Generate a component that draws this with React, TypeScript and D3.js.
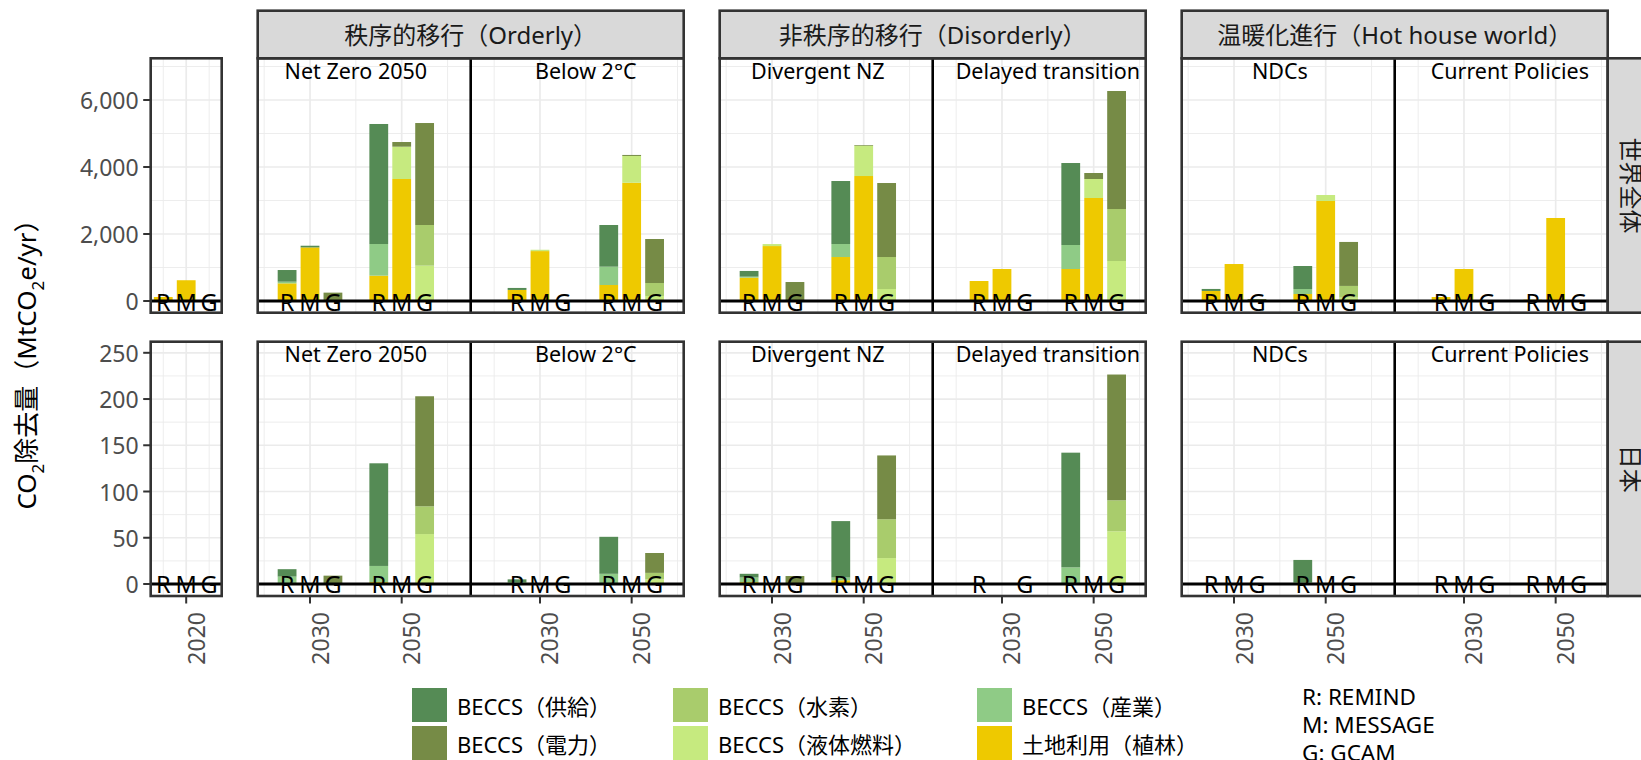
import React from "react";
import * as d3 from "d3";

// ---------------- Data ----------------
const categories = ["BECCS（供給）", "BECCS（電力）", "BECCS（水素）", "BECCS（液体燃料）", "BECCS（産業）", "土地利用（植林）"];
const categoryColors = ["#558b55", "#768b46", "#a9cc6c", "#c6ea7f", "#8fcb86", "#eec900"];
const stackBottomToTop = ["土地利用（植林）", "BECCS（産業）", "BECCS（液体燃料）", "BECCS（水素）", "BECCS（電力）", "BECCS（供給）"];
const regions = ["世界全体", "日本"];
const groupNames = ["秩序的移行（Orderly）", "非秩序的移行（Disorderly）", "温暖化進行（Hot house world）"];
const scenarioNames = [["Net Zero 2050", "Below 2°C"], ["Divergent NZ", "Delayed transition"], ["NDCs", "Current Policies"]];
const modelLetters = ["R", "M", "G"];
const modelShift = [-5, 0, 5];
const modelLegend = ["R: REMIND", "M: MESSAGE", "G: GCAM"];
const yTicksWorld = [0, 2000, 4000, 6000];
const yMinorWorld = [1000, 3000, 5000, 7000];
const yTicksJapan = [0, 50, 100, 150, 200, 250];
const yMinorJapan = [25, 75, 125, 175, 225];
const xTicksBase = [2020];
const xMinorBase = [2015, 2025];
const xTicksScen = [2030, 2050];
const xMinorScen = [2020, 2040, 2060];
const labelYear = 2040;

// rows: [year, model, 供給, 電力, 水素, 液体燃料, 産業, 土地利用]
const world2020 = [
  [2020, "R", 0, 0, 0, 0, 0, 120],
  [2020, "M", 0, 0, 0, 0, 0, 620],
  [2020, "G", 0, 0, 0, 15, 0, 0],
];
const worldNZ = [
  [2030, "R", 348, 0, 0, 0, 50, 527],
  [2030, "M", 50, 0, 0, 0, 0, 1600],
  [2030, "G", 0, 250, 0, 0, 0, 0],
  [2050, "R", 3583, 0, 0, 0, 945, 756],
  [2050, "M", 0, 139, 0, 965, 0, 3642],
  [2050, "G", 0, 3044, 1214, 1055, 0, 0],
];
const worldB2 = [
  [2030, "R", 60, 0, 0, 0, 0, 330],
  [2030, "M", 0, 0, 0, 40, 0, 1490],
  [2030, "G", 0, 10, 0, 0, 0, 0],
  [2050, "R", 1244, 0, 0, 0, 547, 478],
  [2050, "M", 0, 30, 0, 800, 0, 3530],
  [2050, "G", 0, 1314, 387, 150, 0, 0],
];
const worldDNZ = [
  [2030, "R", 170, 0, 0, 0, 30, 697],
  [2030, "M", 0, 0, 0, 60, 0, 1640],
  [2030, "G", 0, 567, 0, 0, 0, 0],
  [2050, "R", 1881, 0, 0, 0, 388, 1313],
  [2050, "M", 0, 20, 0, 906, 0, 3731],
  [2050, "G", 0, 2209, 955, 358, 0, 0],
];
const worldDT = [
  [2030, "R", 0, 0, 0, 0, 0, 597],
  [2030, "M", 0, 0, 0, 0, 0, 955],
  [2030, "G", 0, 0, 0, 0, 0, 0],
  [2050, "R", 2447, 0, 0, 0, 717, 955],
  [2050, "M", 0, 179, 0, 567, 0, 3075],
  [2050, "G", 0, 3523, 1552, 1194, 0, 0],
];
const worldNDC = [
  [2030, "R", 60, 0, 0, 0, 0, 300],
  [2030, "M", 0, 0, 0, 0, 0, 1104],
  [2030, "G", 0, 60, 0, 0, 0, 0],
  [2050, "R", 687, 0, 0, 0, 149, 209],
  [2050, "M", 0, 0, 0, 179, 0, 2985],
  [2050, "G", 0, 1313, 350, 100, 0, 0],
];
const worldCP = [
  [2030, "R", 0, 0, 0, 0, 0, 119],
  [2030, "M", 0, 0, 0, 0, 0, 955],
  [2030, "G", 0, 0, 0, 0, 0, 0],
  [2050, "R", 0, 0, 0, 0, 0, 40],
  [2050, "M", 0, 0, 0, 0, 0, 2478],
  [2050, "G", 0, 0, 0, 0, 0, 0],
];
const japan2020 = [
  [2020, "R", 0, 0, 0, 0, 0, 0.6],
  [2020, "M", 0, 0, 0, 0, 0, 0],
  [2020, "G", 0, 0, 0, 0.4, 0, 0],
];
const japanNZ = [
  [2030, "R", 8, 0, 0, 0, 8, 0],
  [2030, "M", 0, 0, 0, 0, 0, 0],
  [2030, "G", 0, 9, 0, 0, 0, 0],
  [2050, "R", 111, 0, 0, 0, 17.5, 2],
  [2050, "M", 0, 0, 0, 0, 0, 0],
  [2050, "G", 0, 119, 30, 54, 0, 0],
];
const japanB2 = [
  [2030, "R", 3, 0, 0, 0, 2, 0],
  [2030, "M", 0, 0, 0, 0, 0, 0],
  [2030, "G", 0, 0, 0, 0, 0, 0],
  [2050, "R", 40, 0, 0, 0, 11, 0],
  [2050, "M", 0, 0, 0, 0, 0, 0],
  [2050, "G", 0, 21.5, 7, 5, 0, 0],
];
const japanDNZ = [
  [2030, "R", 4, 0, 0, 0, 5, 2],
  [2030, "M", 0, 0, 0, 0, 0, 0],
  [2030, "G", 0, 8.6, 0, 0, 0, 0],
  [2050, "R", 61, 0, 0, 0, 3, 4],
  [2050, "M", 0, 0, 0, 0, 0, 0],
  [2050, "G", 0, 69, 42, 28, 0, 0],
];
const japanDT = [
  [2030, "R", 0, 0, 0, 0, 0, 0],
  [2030, "G", 0, 0, 0, 0, 0, 0],
  [2050, "R", 124, 0, 0, 0, 17, 1],
  [2050, "M", 0, 0, 0, 0, 0, 0],
  [2050, "G", 0, 136, 33.5, 57, 0, 0],
];
const japanNDC = [
  [2030, "R", 0, 0, 0, 0, 0, 0],
  [2030, "M", 0, 0, 0, 0, 0, 0],
  [2030, "G", 0, 0, 0, 0, 0, 0],
  [2050, "R", 24, 0, 0, 0, 2, 0],
  [2050, "M", 0, 0, 0, 0, 0, 0],
  [2050, "G", 0, 0, 0, 0, 0, 0],
];
const japanCP = [
  [2030, "R", 0, 0, 0, 0, 0, 0],
  [2030, "M", 0, 0, 0, 0, 0, 0],
  [2030, "G", 0, 0, 0, 0, 0, 0],
  [2050, "R", 0, 0, 0, 0, 0, 0],
  [2050, "M", 0, 0, 0, 0, 0, 0],
  [2050, "G", 0, 0, 0, 0, 0, 0],
];

const baseData = [world2020, japan2020];
const scenData = [
  [[worldNZ, worldB2], [worldDNZ, worldDT], [worldNDC, worldCP]],
  [[japanNZ, japanB2], [japanDNZ, japanDT], [japanNDC, japanCP]],
];

// ---------------- Layout ----------------
const W = 1641;
const H = 760;
const FONT = "'Noto Sans', 'Noto Sans CJK JP', sans-serif";
const rowY = [[58.3, 312.7], [341.7, 596]];
const rowDomain = [[-349, 7245], [-13, 262]];
const baseX = [150.7, 221.7];
const baseDomain = [2012.26, 2027.74];
const groupX = [[257.7, 683.7], [719.7, 1145.7], [1181.7, 1607.7]];
const subDomains = [[2018.59, 2065.05], [2014.89, 2061.35]];
const stripY = [10.7, 58.3];
const rightStrip = [1607.7, 1660];
const barHalf = 2.05;
const GRID = "#ebebeb";
const BORDER = "#333333";

const fmt = d3.format(",");

function Bars({ rows, xs, ys, keyPrefix }) {
  const objs = rows.map((r) => {
    const o = { year: r[0], model: r[1] };
    categories.forEach((c, i) => (o[c] = r[2 + i]));
    return o;
  });
  const series = d3.stack().keys(stackBottomToTop)(objs);
  const out = [];
  series.forEach((s) => {
    const color = categoryColors[categories.indexOf(s.key)];
    s.forEach((d, j) => {
      if (d[1] - d[0] <= 0) return;
      const o = objs[j];
      const cx = o.year + modelShift[modelLetters.indexOf(o.model)];
      const x0 = xs(cx - barHalf);
      const x1 = xs(cx + barHalf);
      out.push(
        <rect key={`${keyPrefix}-${s.key}-${j}`} x={x0} width={x1 - x0} y={ys(d[1])} height={Math.max(ys(d[0]) - ys(d[1]), 0.6)} fill={color} />
      );
    });
  });
  return <g>{out}</g>;
}

function Panel({ rows, xs, ys, x0, x1, y0, y1, xMajor, xMinor, yMajor, yMinor, label, keyPrefix }) {
  return (
    <g>
      {yMinor.map((v) => (
        <line key={`ymi${v}`} x1={x0} x2={x1} y1={ys(v)} y2={ys(v)} stroke={GRID} strokeWidth={0.9} />
      ))}
      {xMinor.filter((v) => xs(v) > x0 && xs(v) < x1).map((v) => (
        <line key={`xmi${v}`} x1={xs(v)} x2={xs(v)} y1={y0} y2={y1} stroke={GRID} strokeWidth={0.9} />
      ))}
      {yMajor.map((v) => (
        <line key={`yma${v}`} x1={x0} x2={x1} y1={ys(v)} y2={ys(v)} stroke={GRID} strokeWidth={1.7} />
      ))}
      {xMajor.map((v) => (
        <line key={`xma${v}`} x1={xs(v)} x2={xs(v)} y1={y0} y2={y1} stroke={GRID} strokeWidth={1.7} />
      ))}
      <Bars rows={rows} xs={xs} ys={ys} keyPrefix={keyPrefix} />
      <line x1={x0} x2={x1} y1={ys(0)} y2={ys(0)} stroke="#000" strokeWidth={3} />
      {rows.map((r, i) => {
        const cx = r[0] + modelShift[modelLetters.indexOf(r[1])];
        return (
          <text key={`lab${i}`} x={xs(cx)} y={ys(0) + 0.5} textAnchor="middle" dominantBaseline="central" fontSize={23.5} fill="#000">
            {r[1]}
          </text>
        );
      })}
      {label && (
        <text x={xs(labelYear)} y={y0 + 20.6} textAnchor="middle" fontSize={21.5} fill="#000">
          {label}
        </text>
      )}
    </g>
  );
}

export default function App() {
  const elems = [];
  rowY.forEach(([y0, y1], ri) => {
    const ys = d3.scaleLinear().domain(rowDomain[ri]).range([y1, y0]);
    const yMajor = ri === 0 ? yTicksWorld : yTicksJapan;
    const yMinor = ri === 0 ? yMinorWorld : yMinorJapan;
    const isBottom = ri === rowY.length - 1;

    // base-year panel
    const xsB = d3.scaleLinear().domain(baseDomain).range(baseX);
    elems.push(
      <g key={`base${ri}`}>
        <Panel rows={baseData[ri]} xs={xsB} ys={ys} x0={baseX[0]} x1={baseX[1]} y0={y0} y1={y1}
          xMajor={xTicksBase} xMinor={xMinorBase} yMajor={yMajor} yMinor={yMinor} label={null} keyPrefix={`b${ri}`} />
        <rect x={baseX[0]} y={y0} width={baseX[1] - baseX[0]} height={y1 - y0} fill="none" stroke={BORDER} strokeWidth={2.6} />
        {yMajor.map((v) => (
          <g key={`yt${v}`}>
            <line x1={baseX[0] - 7.5} x2={baseX[0]} y1={ys(v)} y2={ys(v)} stroke={BORDER} strokeWidth={2} />
            <text x={baseX[0] - 12} y={ys(v)} textAnchor="end" dominantBaseline="central" fontSize={23} fill="#4d4d4d">
              {fmt(v)}
            </text>
          </g>
        ))}
        {isBottom && xTicksBase.map((v) => (
          <g key={`xt${v}`}>
            <line x1={xsB(v)} x2={xsB(v)} y1={y1} y2={y1 + 7.5} stroke={BORDER} strokeWidth={2} />
            <text transform={`translate(${xsB(v) + 9.5},${y1 + 16}) rotate(-90)`} textAnchor="end" dominantBaseline="central" fontSize={23} fill="#4d4d4d">
              {v}
            </text>
          </g>
        ))}
      </g>
    );

    // scenario groups
    groupX.forEach(([gx0, gx1], gi) => {
      const mid = (gx0 + gx1) / 2;
      const subs = [[gx0, mid], [mid, gx1]];
      subs.forEach(([sx0, sx1], si) => {
        const xs = d3.scaleLinear().domain(subDomains[si]).range([sx0, sx1]);
        elems.push(
          <g key={`p${ri}-${gi}-${si}`}>
            <Panel rows={scenData[ri][gi][si]} xs={xs} ys={ys} x0={sx0} x1={sx1} y0={y0} y1={y1}
              xMajor={xTicksScen} xMinor={xMinorScen} yMajor={yMajor} yMinor={yMinor}
              label={scenarioNames[gi][si]} keyPrefix={`s${ri}${gi}${si}`} />
            {isBottom && xTicksScen.map((v) => (
              <g key={`xt${v}`}>
                <line x1={xs(v)} x2={xs(v)} y1={y1} y2={y1 + 7.5} stroke={BORDER} strokeWidth={2} />
                <text transform={`translate(${xs(v) + 9.5},${y1 + 16}) rotate(-90)`} textAnchor="end" dominantBaseline="central" fontSize={23} fill="#4d4d4d">
                  {v}
                </text>
              </g>
            ))}
          </g>
        );
      });
      elems.push(
        <g key={`gb${ri}-${gi}`}>
          <line x1={mid} x2={mid} y1={y0} y2={y1} stroke="#000" strokeWidth={2.6} />
          <rect x={gx0} y={y0} width={gx1 - gx0} height={y1 - y0} fill="none" stroke={BORDER} strokeWidth={2.6} />
        </g>
      );
      if (ri === 0) {
        elems.push(
          <g key={`strip${gi}`}>
            <rect x={gx0} y={stripY[0]} width={gx1 - gx0} height={stripY[1] - stripY[0]} fill="#d9d9d9" stroke={BORDER} strokeWidth={2.6} />
            <text x={mid} y={(stripY[0] + stripY[1]) / 2} textAnchor="middle" dominantBaseline="central" fontSize={24} fill="#1a1a1a">
              {groupNames[gi]}
            </text>
          </g>
        );
      }
    });

    // right strip
    elems.push(
      <g key={`rs${ri}`}>
        <rect x={rightStrip[0]} y={y0} width={rightStrip[1] - rightStrip[0]} height={y1 - y0} fill="#d9d9d9" stroke={BORDER} strokeWidth={2.6} />
        <text transform={`translate(${rightStrip[0] + 24},${(y0 + y1) / 2}) rotate(90)`} textAnchor="middle" dominantBaseline="central" fontSize={24} fill="#1a1a1a">
          {regions[ri]}
        </text>
      </g>
    );
  });

  // legend
  const legendCols = [412, 673, 977];
  const legendRows = [688, 726];
  const legendItems = categories.map((c, i) => ({ c, color: categoryColors[i], col: Math.floor(i / 2), row: i % 2 }));

  return (
    <svg width={W} height={H} style={{ position: "absolute", left: 0, top: 0, background: "#fff" }} fontFamily={FONT}>
      <rect x={0} y={0} width={W} height={H} fill="#fff" />
      {elems}
      <text transform={`translate(26,358) rotate(-90)`} textAnchor="middle" dominantBaseline="central" fontSize={26} fill="#000">
        <tspan>CO</tspan>
        <tspan baselineShift="sub" fontSize={17}>2</tspan>
        <tspan>除去量（MtCO</tspan>
        <tspan baselineShift="sub" fontSize={17}>2</tspan>
        <tspan>e/yr）</tspan>
      </text>
      {legendItems.map((it) => (
        <g key={it.c}>
          <rect x={legendCols[it.col]} y={legendRows[it.row]} width={35} height={34} fill={it.color} />
          <text x={legendCols[it.col] + 45} y={legendRows[it.row] + 18} dominantBaseline="central" fontSize={22} fill="#000">
            {it.c}
          </text>
        </g>
      ))}
      {modelLegend.map((t, i) => (
        <text key={t} x={1302} y={705 + i * 28} fontSize={22.5} fill="#000">
          {t}
        </text>
      ))}
    </svg>
  );
}
